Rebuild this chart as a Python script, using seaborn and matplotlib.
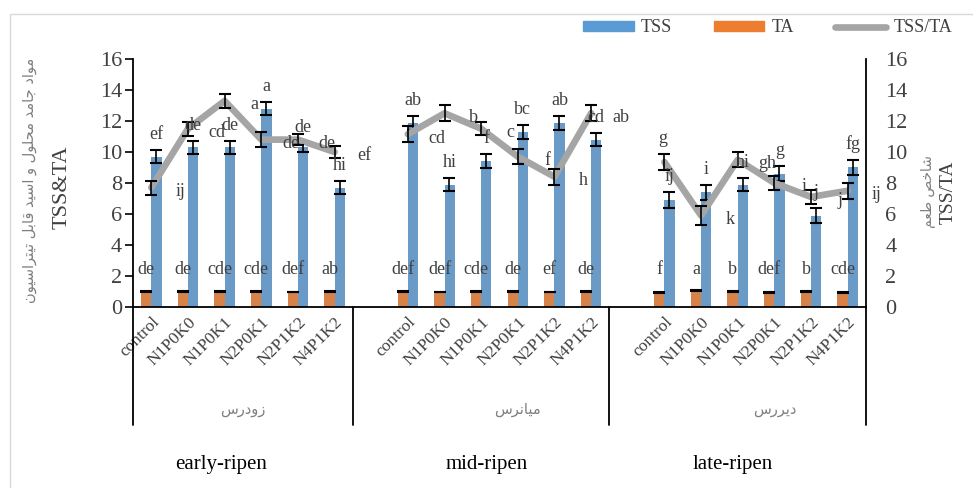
import matplotlib
matplotlib.use('Agg')
import matplotlib.pyplot as plt
from matplotlib.patches import Patch, Rectangle
from matplotlib.lines import Line2D
import matplotlib.transforms as mtransforms
import pandas as pd
import seaborn as sns

# data
treatments = ['control', 'N1P0K0', 'N1P0K1', 'N2P0K1', 'N2P1K2', 'N4P1K2']
groups = ['early-ripen', 'mid-ripen', 'late-ripen']
groups_fa = ['زودرس', 'میانرس', 'دیررس']

tss = [9.7, 10.3, 10.3, 12.8, 10.3, 7.7,
       11.85, 7.9, 9.4, 11.3, 11.9, 10.8,
       6.9, 7.4, 7.9, 8.6, 5.9, 9.0]
tss_err = [0.43, 0.42, 0.42, 0.43, 0.3, 0.43,
           0.45, 0.43, 0.45, 0.45, 0.45, 0.43,
           0.5, 0.5, 0.4, 0.5, 0.5, 0.5]
ta = [1.0, 0.98, 0.98, 0.98, 0.97, 1.0,
      0.98, 0.97, 0.98, 1.0, 0.97, 1.0,
      0.92, 1.05, 1.0, 0.95, 1.0, 0.95]
ta_err = [0.03] * 18
ratio = [7.7, 11.5, 13.3, 10.8, 10.8, 10.0,
         11.15, 12.5, 11.5, 9.7, 8.4, 12.5,
         9.35, 5.9, 9.5, 8.0, 7.1, 7.5]
ratio_err = [0.45, 0.45, 0.45, 0.48, 0.35, 0.4,
             0.5, 0.5, 0.43, 0.5, 0.5, 0.5,
             0.5, 0.6, 0.5, 0.45, 0.45, 0.5]

tss_letters = ['ef', 'de', 'de', 'a', 'de', 'hi',
               'ab', 'hi', 'f', 'bc', 'ab', 'cd',
               'ij', 'i', 'hi', 'g', 'j', 'fg']
ta_letters = ['de', 'de', 'cde', 'cde', 'def', 'ab',
              'def', 'def', 'cde', 'de', 'ef', 'de',
              'f', 'a', 'b', 'def', 'b', 'cde']
ratio_letters = ['ij', 'cd', 'a', 'de', 'de', 'ef',
                 'cd', 'b', 'c', 'f', 'h', 'ab',
                 'g', 'k', 'gh', 'i', 'j', 'ij']

# simple persian shaping (matplotlib has no arabic shaping)
FORMS = {
    'ا': ('\ufe8d', '\ufe8e', None, None),
    'ب': ('\ufe8f', '\ufe90', '\ufe91', '\ufe92'),
    'ت': ('\ufe95', '\ufe96', '\ufe97', '\ufe98'),
    'ج': ('\ufe9d', '\ufe9e', '\ufe9f', '\ufea0'),
    'ح': ('\ufea1', '\ufea2', '\ufea3', '\ufea4'),
    'خ': ('\ufea5', '\ufea6', '\ufea7', '\ufea8'),
    'د': ('\ufea9', '\ufeaa', None, None),
    'ر': ('\ufead', '\ufeae', None, None),
    'ز': ('\ufeaf', '\ufeb0', None, None),
    'س': ('\ufeb1', '\ufeb2', '\ufeb3', '\ufeb4'),
    'ش': ('\ufeb5', '\ufeb6', '\ufeb7', '\ufeb8'),
    'ص': ('\ufeb9', '\ufeba', '\ufebb', '\ufebc'),
    'ط': ('\ufec1', '\ufec2', '\ufec3', '\ufec4'),
    'ع': ('\ufec9', '\ufeca', '\ufecb', '\ufecc'),
    'ق': ('\ufed5', '\ufed6', '\ufed7', '\ufed8'),
    'ل': ('\ufedd', '\ufede', '\ufedf', '\ufee0'),
    'م': ('\ufee1', '\ufee2', '\ufee3', '\ufee4'),
    'ن': ('\ufee5', '\ufee6', '\ufee7', '\ufee8'),
    'و': ('\ufeed', '\ufeee', None, None),
    'ی': ('\ufeef', '\ufef0', '\ufef3', '\ufef4'),
}


def fa(text):
    out = []
    for i, ch in enumerate(text):
        if ch not in FORMS:
            out.append(ch)
            continue
        f = FORMS[ch]
        prev = text[i - 1] if i > 0 else ''
        nxt = text[i + 1] if i < len(text) - 1 else ''
        jp = prev in FORMS and FORMS[prev][2] is not None
        jn = f[2] is not None and nxt in FORMS
        if jp and jn:
            out.append(f[3])
        elif jp:
            out.append(f[1])
        elif jn:
            out.append(f[2])
        else:
            out.append(f[0])
    return ''.join(out)[::-1]


# positions: one empty slot in front of mid and late groups
pos = [g * 7 + i for g in range(3) for i in range(6)]
grp = [groups[g] for g in range(3) for i in range(6)]

bars = pd.DataFrame({'pos': pos * 2, 'value': ta + tss,
                     'series': ['TA'] * 18 + ['TSS'] * 18})
line_df = pd.DataFrame({'pos': pos, 'ratio': ratio, 'group': grp})

sns.set_style('white')
plt.rcParams['font.family'] = ['Liberation Serif', 'DejaVu Sans']
plt.rcParams['text.color'] = '#404040'

BLUE, ORANGE, GRAY = '#5B9BD5', '#ED7D31', '#A5A5A5'
txt = '#404040'

fig = plt.figure(figsize=(9.73, 4.88), dpi=100)
ax = fig.add_axes([133 / 973, 1 - 307 / 488, 733 / 973, 248 / 488])

sns.barplot(data=bars, x='pos', y='value', hue='series', hue_order=['TA', 'TSS'],
            palette={'TA': ORANGE, 'TSS': BLUE}, native_scale=True, width=0.56,
            gap=0, errorbar=None, legend=False, linewidth=0, ax=ax)
d = 0.135
ax.errorbar([p - d for p in pos], ta, yerr=ta_err, fmt='none', ecolor='black',
            elinewidth=1.2, capsize=4, capthick=1.5)
ax.errorbar([p + d for p in pos], tss, yerr=tss_err, fmt='none', ecolor='black',
            elinewidth=1.2, capsize=4, capthick=1.5)

ax.set_xlim(-0.5, 19.5)
ax.set_ylim(0, 16)
ax.set_yticks(range(0, 17, 2))
ax.set_xticks(pos)
ax.set_xticklabels(treatments * 3, rotation=45, ha='right', rotation_mode='anchor',
                   fontsize=12.5, color=txt)
ax.tick_params(axis='x', length=0, pad=5)
ax.tick_params(axis='y', length=6, width=1.2, color='black', labelsize=16,
               labelcolor=txt, pad=2)
ax.set_xlabel('')
ax.set_ylabel('')
for s in ['top', 'right']:
    ax.spines[s].set_visible(False)
for s in ['left', 'bottom']:
    ax.spines[s].set_color('black')
    ax.spines[s].set_linewidth(1.3)

ax2 = ax.twinx()
sns.lineplot(data=line_df, x='pos', y='ratio', units='group', estimator=None,
             color=GRAY, lw=4.8, ax=ax2, legend=False)
ax2.errorbar(pos, ratio, yerr=ratio_err, fmt='none', ecolor='black',
             elinewidth=1.2, capsize=4, capthick=1.5)
ax2.set_ylim(0, 16)
ax2.set_xlim(-0.5, 19.5)
ax2.set_yticks(range(0, 17, 2))
ax2.tick_params(axis='y', length=0, labelsize=16, labelcolor=txt, pad=14)
ax2.set_ylabel('')
ax2.set_xlabel('')
for s in ['top', 'left', 'bottom']:
    ax2.spines[s].set_visible(False)
ax2.spines['right'].set_color('black')
ax2.spines['right'].set_linewidth(1.3)

# letters
for k, p in enumerate(pos):
    ax2.text(p + d, tss[k] + tss_err[k] + 1.0, tss_letters[k], ha='center',
             va='center', fontsize=13, color=txt)
    ax2.text(p - d, 2.4, ta_letters[k], ha='center', va='center',
             fontsize=13, color=txt)
    if k == 12:
        ax2.text(p - 0.05, ratio[k] + ratio_err[k] + 1.0, ratio_letters[k],
                 ha='center', va='center', fontsize=13, color=txt)
    else:
        ax2.text(p + 0.8, ratio[k] - 0.25, ratio_letters[k], ha='center',
                 va='center', fontsize=13, color=txt)

# multi level category axis
trans = mtransforms.blended_transform_factory(ax.transData, ax.transAxes)
for xb in [-0.5, 5.5, 12.5, 19.5]:
    ax.plot([xb, xb], [0, -0.476], color='black', lw=1.3, transform=trans,
            clip_on=False)
for g in range(3):
    ax.text(g * 7 + 2.5 + (0.5 if g else 0), -0.415, fa(groups_fa[g]),
            transform=trans, ha='center', va='center', fontsize=10.5,
            color='#7F7F7F', family='DejaVu Sans')

for xp, lab in zip([221, 487, 733], groups):
    fig.text(xp / 973, 1 - 465 / 488, lab, ha='center', va='center',
             fontsize=15, color='black')

# axis titles
fig.text(30 / 973, 1 - 180 / 488, fa('مواد جامد محلول و اسید قابل تیتراسیون'),
         rotation=90, ha='center', va='center', fontsize=10.5,
         color='#7F7F7F', family='DejaVu Sans')
fig.text(62 / 973, 1 - 187 / 488, 'TSS&TA', rotation=90, ha='center',
         va='center', fontsize=16, color=txt)
fig.text(928 / 973, 1 - 192 / 488, fa('شاخص طعم'), rotation=90, ha='center',
         va='center', fontsize=10, color='#7F7F7F', family='DejaVu Sans')
fig.text(948 / 973, 1 - 192 / 488, 'TSS/TA', rotation=90, ha='center',
         va='center', fontsize=14, color=txt)

handles = [Patch(color=BLUE, label='TSS'), Patch(color=ORANGE, label='TA'),
           Line2D([], [], color=GRAY, lw=4.8, label='TSS/TA')]
fig.legend(handles=handles, loc='center right',
           bbox_to_anchor=(952 / 973, 1 - 28 / 488), ncol=3, frameon=False,
           fontsize=13, handlelength=2.8, handleheight=0.5, handletextpad=0.4,
           columnspacing=2.3, borderpad=0, borderaxespad=0)

fig.add_artist(Rectangle((10 / 973, -0.1), 1.2, 1.1 - 14 / 488,
                         transform=fig.transFigure, fill=False,
                         ec='#D9D9D9', lw=1))

fig.savefig('out.png', dpi=100)
